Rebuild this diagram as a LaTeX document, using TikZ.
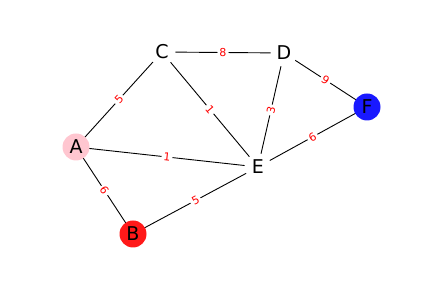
\documentclass[tikz,border=0pt]{standalone}
\usepackage{fontspec}
\setmainfont{DejaVu Sans}
\begin{document}
\begin{tikzpicture}[x=1pt,y=-1pt,
  vertex/.style={circle,minimum size=27pt,inner sep=0pt,font=\fontsize{19}{19}\selectfont},
  link/.style={draw=black,line width=0.9pt},
  wlabel/.style={midway,sloped,fill=white,rounded corners=2pt,inner sep=2pt,text=red,font=\fontsize{11}{11}\selectfont}]
\useasboundingbox (0,0) rectangle (432,288);
\coordinate (pA) at (76,147);
\coordinate (pB) at (133,234);
\coordinate (pC) at (162,52);
\coordinate (pD) at (284,53);
\coordinate (pE) at (258,167);
\coordinate (pF) at (367,107);
\path[link] (pA) -- node[wlabel]{5} (pC);
\path[link] (pC) -- node[wlabel]{8} (pD);
\path[link] (pC) -- node[wlabel]{1} (pE);
\path[link] (pD) -- node[wlabel]{3} (pE);
\path[link] (pD) -- node[wlabel]{9} (pF);
\path[link] (pA) -- node[wlabel]{1} (pE);
\path[link] (pA) -- node[wlabel]{6} (pB);
\path[link] (pB) -- node[wlabel]{5} (pE);
\path[link] (pE) -- node[wlabel]{6} (pF);
\node[vertex,fill={rgb,255:red,255;green,198;blue,208}] (A) at (pA) {A};
\node[vertex,fill={rgb,255:red,255;green,25;blue,25}] (B) at (pB) {B};
\node[vertex,fill=white] (C) at (pC) {C};
\node[vertex,fill=white] (D) at (pD) {D};
\node[vertex,fill=white] (E) at (pE) {E};
\node[vertex,fill={rgb,255:red,25;green,25;blue,255}] (F) at (pF) {F};
\end{tikzpicture}
\end{document}
